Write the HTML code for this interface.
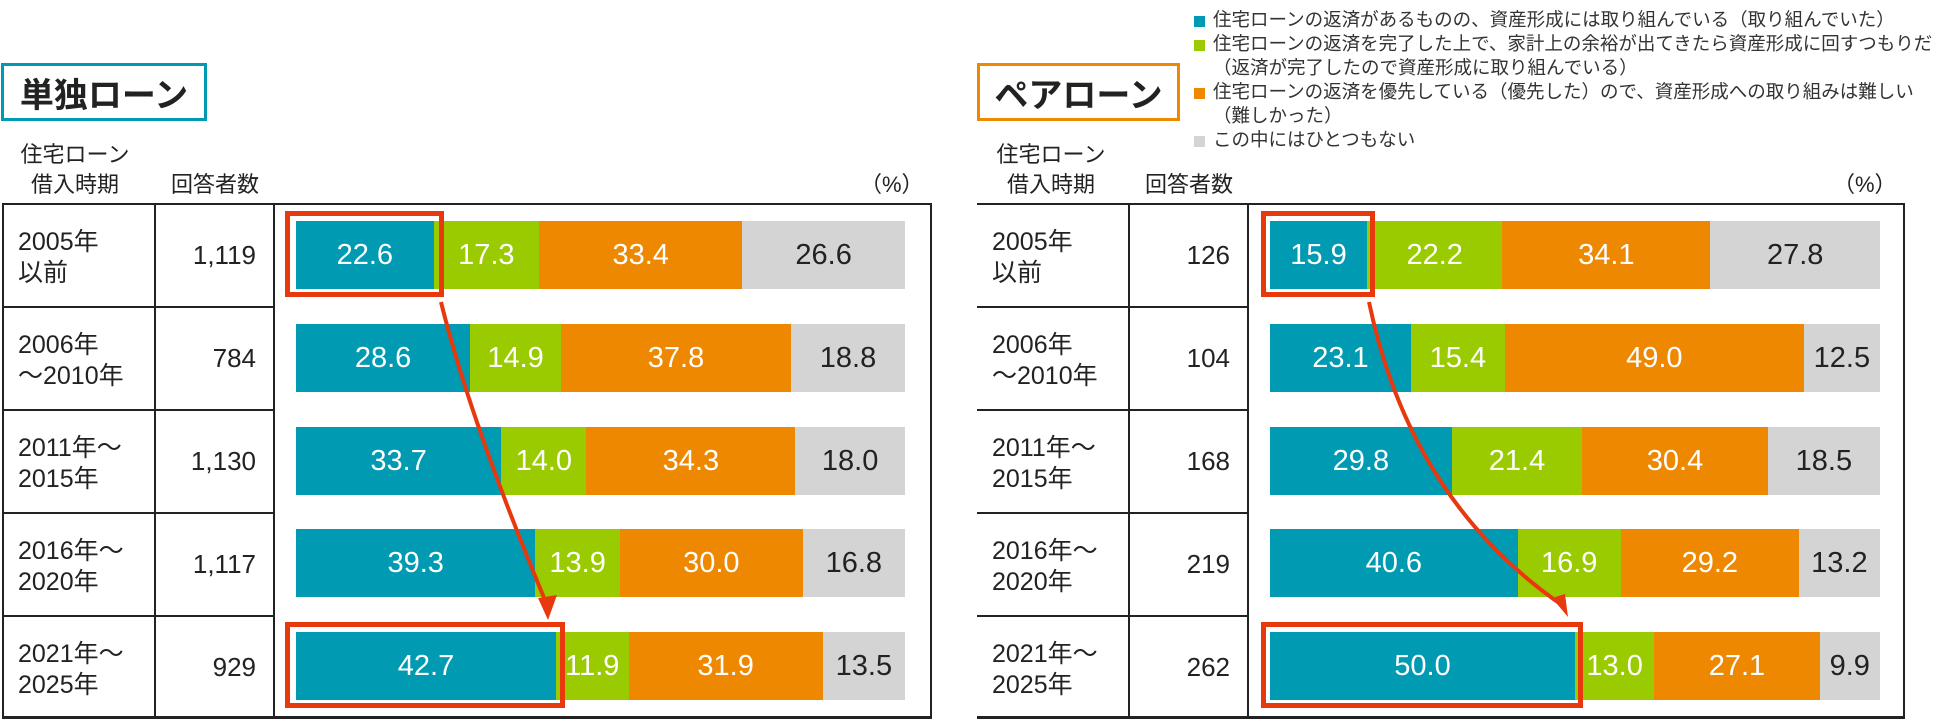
<!DOCTYPE html>
<html><head><meta charset="utf-8"><style>
*{margin:0;padding:0;box-sizing:border-box}
body{width:1954px;height:719px;background:#fff;position:relative;overflow:hidden;font-family:"Liberation Sans","Noto Sans CJK JP",sans-serif;color:#222}
.a{position:absolute}
.title{font-size:34px;font-weight:bold;display:flex;align-items:center;justify-content:center;background:#fff}
.hd{font-size:22px;line-height:30px;text-align:center}
.lbl{font-size:25px;line-height:31px}
.cnt{font-size:26px;text-align:right}
.bar{display:flex;height:68px}
.bar div{height:100%;display:flex;align-items:center;justify-content:center;font-size:29px;color:#fff;overflow:visible;white-space:nowrap}
.t{background:#009ab3}.g{background:#9acb00}.o{background:#ee8800}.y{background:#d4d4d4;color:#222!important}
.leg{font-size:18.5px;line-height:24px;color:#333}
.sq{display:inline-block;width:11px;height:11px;margin-right:8px;vertical-align:-1px}
.box{border:5px solid #e8380d}
</style></head><body>

<!-- LEFT -->
<div class="a title" style="left:1px;top:63px;width:206px;height:58px;border:3px solid #0099b3">単独ローン</div>
<div class="a hd" style="left:10px;top:140px;width:130px">住宅ローン<br>借入時期</div>
<div class="a hd" style="left:160px;top:170px;width:110px">回答者数</div>
<div class="a hd" style="left:860px;top:170px">（%）</div>
<div class="a" style="left:2px;top:203px;width:930px;height:516px;border:2px solid #222;border-bottom:3px solid #222"></div>
<div class="a" style="left:154px;top:203px;width:2px;height:516px;background:#222"></div>
<div class="a" style="left:273px;top:203px;width:2px;height:516px;background:#222"></div>
<div class="a" style="left:2px;top:306px;width:272px;height:2px;background:#222"></div>
<div class="a" style="left:2px;top:409px;width:272px;height:2px;background:#222"></div>
<div class="a" style="left:2px;top:512px;width:272px;height:2px;background:#222"></div>
<div class="a" style="left:2px;top:615px;width:272px;height:2px;background:#222"></div>

<div class="a lbl" style="left:18px;top:227px">2005年<br>以前</div>
<div class="a lbl" style="left:18px;top:330px">2006年<br>～2010年</div>
<div class="a lbl" style="left:18px;top:433px">2011年～<br>2015年</div>
<div class="a lbl" style="left:18px;top:536px">2016年～<br>2020年</div>
<div class="a lbl" style="left:18px;top:639px">2021年～<br>2025年</div>
<div class="a cnt" style="left:160px;width:96px;top:240px">1,119</div>
<div class="a cnt" style="left:160px;width:96px;top:343px">784</div>
<div class="a cnt" style="left:160px;width:96px;top:446px">1,130</div>
<div class="a cnt" style="left:160px;width:96px;top:549px">1,117</div>
<div class="a cnt" style="left:160px;width:96px;top:652px">929</div>

<div class="a bar" style="left:296px;top:221px;width:609px"><div class="t" style="width:22.6%">22.6</div><div class="g" style="width:17.3%">17.3</div><div class="o" style="width:33.4%">33.4</div><div class="y" style="width:26.7%">26.6</div></div>
<div class="a bar" style="left:296px;top:324px;width:609px"><div class="t" style="width:28.6%">28.6</div><div class="g" style="width:14.9%">14.9</div><div class="o" style="width:37.8%">37.8</div><div class="y" style="width:18.7%">18.8</div></div>
<div class="a bar" style="left:296px;top:427px;width:609px"><div class="t" style="width:33.7%">33.7</div><div class="g" style="width:14.0%">14.0</div><div class="o" style="width:34.3%">34.3</div><div class="y" style="width:18.0%">18.0</div></div>
<div class="a bar" style="left:296px;top:529px;width:609px"><div class="t" style="width:39.3%">39.3</div><div class="g" style="width:13.9%">13.9</div><div class="o" style="width:30.0%">30.0</div><div class="y" style="width:16.8%">16.8</div></div>
<div class="a bar" style="left:296px;top:632px;width:609px"><div class="t" style="width:42.7%">42.7</div><div class="g" style="width:11.9%">11.9</div><div class="o" style="width:31.9%">31.9</div><div class="y" style="width:13.5%">13.5</div></div>
<div class="a box" style="left:285px;top:211px;width:159px;height:86px"></div>
<div class="a box" style="left:285px;top:622px;width:280px;height:86px"></div>

<!-- RIGHT -->
<div class="a title" style="left:977px;top:63px;width:203px;height:58px;border:3px solid #ee8800">ペアローン</div>
<div class="a leg" style="left:1194px;top:8px;width:760px">
<div><span class="sq" style="background:#009ab3"></span>住宅ローンの返済があるものの、資産形成には取り組んでいる（取り組んでいた）</div>
<div><span class="sq" style="background:#9acb00"></span>住宅ローンの返済を完了した上で、家計上の余裕が出てきたら資産形成に回すつもりだ</div>
<div style="padding-left:19px">（返済が完了したので資産形成に取り組んでいる）</div>
<div><span class="sq" style="background:#ee8800"></span>住宅ローンの返済を優先している（優先した）ので、資産形成への取り組みは難しい</div>
<div style="padding-left:19px">（難しかった）</div>
<div><span class="sq" style="background:#d4d4d4"></span>この中にはひとつもない</div>
</div>
<div class="a hd" style="left:986px;top:140px;width:130px">住宅ローン<br>借入時期</div>
<div class="a hd" style="left:1134px;top:170px;width:110px">回答者数</div>
<div class="a hd" style="left:1833px;top:170px">（%）</div>
<div class="a" style="left:977px;top:203px;width:928px;height:516px;border:2px solid #222;border-left:none;border-bottom:3px solid #222"></div>
<div class="a" style="left:1128px;top:203px;width:2px;height:516px;background:#222"></div>
<div class="a" style="left:1247px;top:203px;width:2px;height:516px;background:#222"></div>
<div class="a" style="left:977px;top:306px;width:271px;height:2px;background:#222"></div>
<div class="a" style="left:977px;top:409px;width:271px;height:2px;background:#222"></div>
<div class="a" style="left:977px;top:512px;width:271px;height:2px;background:#222"></div>
<div class="a" style="left:977px;top:615px;width:271px;height:2px;background:#222"></div>

<div class="a lbl" style="left:992px;top:227px">2005年<br>以前</div>
<div class="a lbl" style="left:992px;top:330px">2006年<br>～2010年</div>
<div class="a lbl" style="left:992px;top:433px">2011年～<br>2015年</div>
<div class="a lbl" style="left:992px;top:536px">2016年～<br>2020年</div>
<div class="a lbl" style="left:992px;top:639px">2021年～<br>2025年</div>
<div class="a cnt" style="left:1134px;width:96px;top:240px">126</div>
<div class="a cnt" style="left:1134px;width:96px;top:343px">104</div>
<div class="a cnt" style="left:1134px;width:96px;top:446px">168</div>
<div class="a cnt" style="left:1134px;width:96px;top:549px">219</div>
<div class="a cnt" style="left:1134px;width:96px;top:652px">262</div>

<div class="a bar" style="left:1270px;top:221px;width:610px"><div class="t" style="width:15.9%">15.9</div><div class="g" style="width:22.2%">22.2</div><div class="o" style="width:34.1%">34.1</div><div class="y" style="width:27.8%">27.8</div></div>
<div class="a bar" style="left:1270px;top:324px;width:610px"><div class="t" style="width:23.1%">23.1</div><div class="g" style="width:15.4%">15.4</div><div class="o" style="width:49.0%">49.0</div><div class="y" style="width:12.5%">12.5</div></div>
<div class="a bar" style="left:1270px;top:427px;width:610px"><div class="t" style="width:29.8%">29.8</div><div class="g" style="width:21.4%">21.4</div><div class="o" style="width:30.4%">30.4</div><div class="y" style="width:18.4%">18.5</div></div>
<div class="a bar" style="left:1270px;top:529px;width:610px"><div class="t" style="width:40.6%">40.6</div><div class="g" style="width:16.9%">16.9</div><div class="o" style="width:29.2%">29.2</div><div class="y" style="width:13.3%">13.2</div></div>
<div class="a bar" style="left:1270px;top:632px;width:610px"><div class="t" style="width:50.0%">50.0</div><div class="g" style="width:13.0%">13.0</div><div class="o" style="width:27.1%">27.1</div><div class="y" style="width:9.9%">9.9</div></div>
<div class="a box" style="left:1261px;top:211px;width:114px;height:86px"></div>
<div class="a box" style="left:1261px;top:622px;width:322px;height:86px"></div>

<svg class="a" style="left:0;top:0" width="1954" height="719">
<g fill="none" stroke="#e8380d" stroke-width="4">
<path d="M441 302 Q470 420 547 605"/>
<path d="M1369 302 Q1410 500 1562 605"/>
</g>
<g fill="#e8380d">
<path d="M538 598 L548 620 L557 595 Z"/>
<path d="M1552 598 L1568 617 L1565 594 Z"/>
</g>
</svg>
</body></html>
